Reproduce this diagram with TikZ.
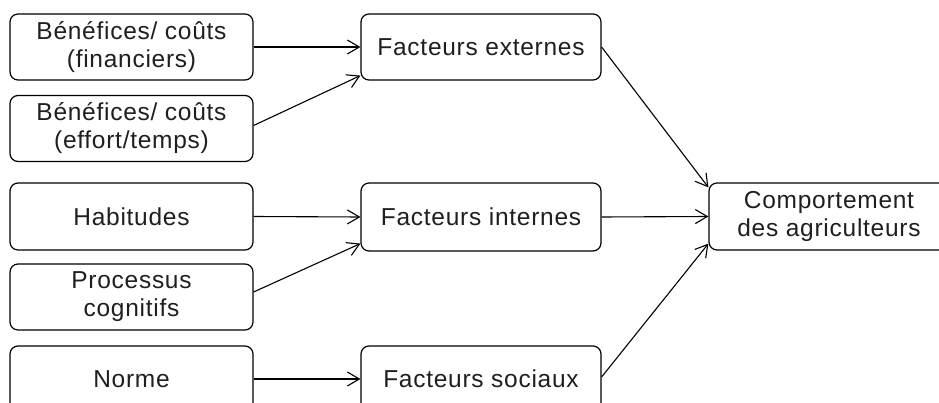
\documentclass[tikz,border=0pt]{standalone}
\usepackage{fontspec}
\setmainfont{Liberation Sans}[LetterSpace=3]
\usetikzlibrary{arrows.meta,calc}
\begin{document}
\begin{tikzpicture}[x=1pt,y=-1pt,
  box/.style={draw, line width=1.2pt, rounded corners=8pt, align=center,
    minimum width=243pt, minimum height=66pt, inner sep=0pt,
    font=\fontsize{24.5}{28}\selectfont, text=black!88},
  midbox/.style={box, minimum width=240pt},
  link/.style={line width=1.1pt, -{Straight Barb[length=12pt,width=14pt,line width=1.1pt]}}]
  \useasboundingbox (0,0) rectangle (939,403);
  \clip (0,0) rectangle (939,403);

  % source factors
  \node[box] (b1) at (131.5,47)    {Bénéfices/ coûts\\(financiers)};
  \node[box] (b2) at (131.5,128.5) {Bénéfices/ coûts\\(effort/temps)};
  \node[box, minimum height=67pt] (b3) at (131.5,216.5) {Habitudes};
  \node[box] (b4) at (131.5,297)   {Processus\\cognitifs};
  \node[box] (b5) at (131.5,379)   {Norme};

  % factor groups
  \node[midbox] (m1) at (481,47)    {Facteurs externes};
  \node[midbox, minimum height=68pt] (m2) at (481,217) {Facteurs internes};
  \node[midbox] (m3) at (481,379)   {Facteurs sociaux};

  % outcome
  \node[midbox, minimum height=67pt] (r) at (829,216.5) {Comportement\\des agriculteurs};

  % connectors
  \draw[link] (b1.east) -- (m1.west);
  \draw[link] ($(b2.east)+(0,-3)$) -- ($(m1.south west)+(0,-5)$);
  \draw[link] (b3.east) -- (m2.west);
  \draw[link] ($(b4.east)+(0,-5)$) -- ($(m2.south west)+(0,-8)$);
  \draw[link] (b5.east) -- (m3.west);

  \draw[link] (m1.east) -- ($(r.north west)+(0,5)$);
  \draw[link] (m2.east) -- (r.west);
  \draw[link] ($(m3.east)+(0,-2)$) -- ($(r.south west)+(0,-7)$);
\end{tikzpicture}
\end{document}
